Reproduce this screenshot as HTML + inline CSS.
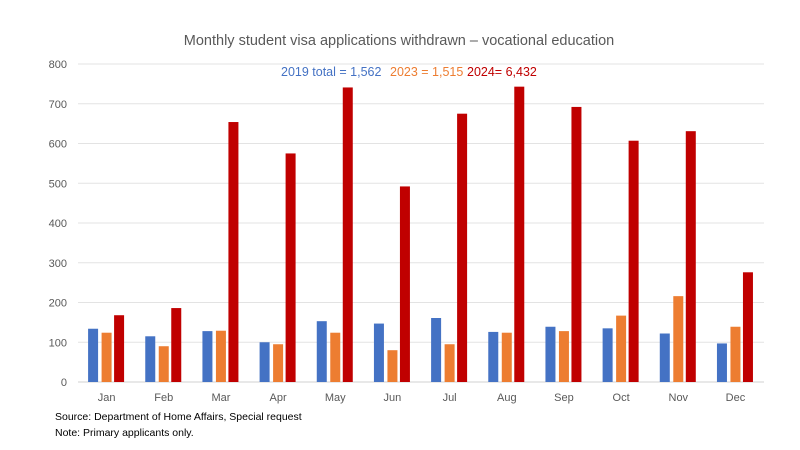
<!DOCTYPE html>
<html><head><meta charset="utf-8"><style>body{margin:0;background:#fff}svg{display:block}</style></head><body>
<svg width="800" height="450" xmlns="http://www.w3.org/2000/svg" font-family="Liberation Sans, sans-serif">
<rect width="800" height="450" fill="#fff"/>
<text x="399" y="45" font-size="14.5" fill="#595959" text-anchor="middle">Monthly student visa applications withdrawn – vocational education</text>
<g id="grid"></g>
<g id="bars"></g>
<text x="281" y="76" font-size="12.5" fill="#4472C4">2019 total = 1,562</text>
<text x="390" y="76" font-size="12.5" fill="#ED7D31">2023 = 1,515</text>
<text x="467" y="76" font-size="12.5" fill="#C00000">2024= 6,432</text>
<text x="55" y="420" font-size="10.5" fill="#000">Source: Department of Home Affairs, Special request</text>
<text x="55" y="436" font-size="10.5" fill="#000">Note: Primary applicants only.</text>
<script>
const ns="http://www.w3.org/2000/svg",g=document.getElementById('grid'),b=document.getElementById('bars');
function el(p,t,a,txt){const e=document.createElementNS(ns,t);for(const k in a)e.setAttribute(k,a[k]);if(txt)e.textContent=txt;p.appendChild(e);}
const y0=382,s=0.3975;
for(let v=0;v<=800;v+=100){const y=y0-v*s;el(g,'line',{x1:78,x2:764,y1:y,y2:y,stroke:v?'#e3e3e3':'#d0d0d0','stroke-width':1});el(g,'text',{x:67,y:y+4,'font-size':11,fill:'#595959','text-anchor':'end'},String(v));}
const m=['Jan','Feb','Mar','Apr','May','Jun','Jul','Aug','Sep','Oct','Nov','Dec'];
const d=[[134,124,168],[115,90,186],[128,129,654],[100,95,575],[153,124,741],[147,80,492],[161,95,675],[126,124,743],[139,128,692],[135,167,607],[122,216,631],[97,139,276]];
const c=['#4472C4','#ED7D31','#C00000'],off=[-18.5,-5,7.5];
m.forEach((n,i)=>{const cx=78+57.17*(i+0.5);d[i].forEach((v,j)=>{el(b,'rect',{x:cx+off[j],y:y0-v*s,width:10,height:v*s,fill:c[j]});});el(b,'text',{x:cx,y:401,'font-size':11,fill:'#595959','text-anchor':'middle'},n);});
</script>
</svg>
</body></html>
